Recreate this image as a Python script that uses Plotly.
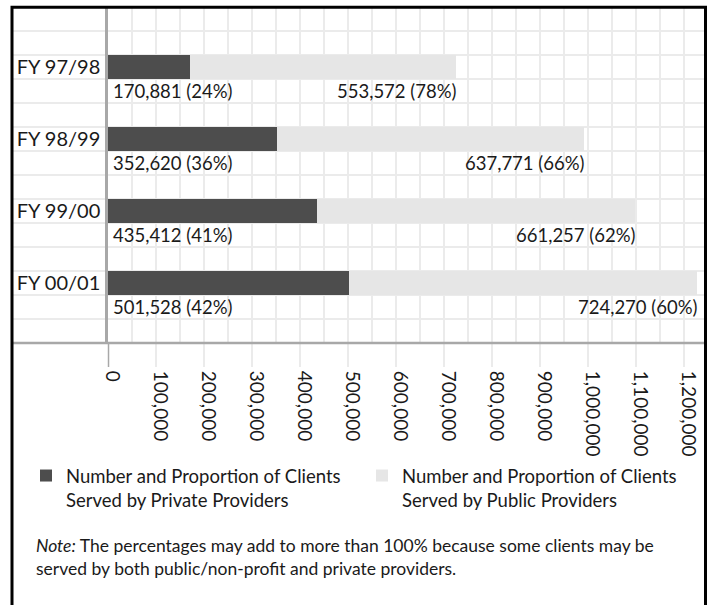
import plotly.graph_objects as go

# ---- data ----
years = ["FY 97/98", "FY 98/99", "FY 99/00", "FY 00/01"]
private_clients = [170881, 352620, 435412, 501528]
private_pct = [24, 36, 41, 42]
public_clients = [553572, 637771, 661257, 724270]
public_pct = [78, 66, 62, 60]
x_ticks = [0, 100000, 200000, 300000, 400000, 500000, 600000,
           700000, 800000, 900000, 1000000, 1100000, 1200000]

legend_private = "Number and Proportion of Clients<br>Served by Private Providers"
legend_public = "Number and Proportion of Clients<br>Served by Public Providers"
note_text = ("<i>Note:</i> The percentages may add to more than 100% because some clients may be"
             "<br>served by both public/non-profit and private providers.")

# ---- layout geometry (pixels) ----
W, H = 709, 605
L, R, T, B = 108, 5, 7, 262
plot_w = W - L - R
plot_h = H - T - B
FONT = "Lato"
TXT = "#1a1a1a"
DARK = "#4d4d4d"
LIGHT = "#e6e6e6"
GRID = "#ebebeb"
AXIS = "#a8a8a8"

def px_x(p):
    return (p - L) / plot_w

def px_y(p):
    return (T + plot_h - p) / plot_h

# category positions in grid cells (each category: bar cell, label cell, empty cell)
ypos = [2.5 + 3 * i for i in range(len(years))]
n_cells = 3 * len(years) + 2

fig = go.Figure()
fig.add_trace(go.Bar(
    y=ypos, x=private_clients, orientation="h", width=1,
    marker=dict(color=DARK, line=dict(width=0)),
    name=legend_private, legend="legend", hoverinfo="skip", showlegend=True,
))
fig.add_trace(go.Bar(
    y=ypos, x=public_clients, orientation="h", width=1,
    marker=dict(color=LIGHT, line=dict(width=0)),
    name=legend_public, legend="legend2", hoverinfo="skip", showlegend=True,
))

annotations = []
for yp, pv, pp, uv, up in zip(ypos, private_clients, private_pct, public_clients, public_pct):
    annotations.append(dict(
        x=0, y=yp + 1, xref="x", yref="y", xanchor="left", yanchor="middle",
        text=f"{pv:,} ({pp}%)", showarrow=False, xshift=3,
        font=dict(family=FONT, size=18.5, color=TXT),
    ))
    annotations.append(dict(
        x=pv + uv, y=yp + 1, xref="x", yref="y", xanchor="right", yanchor="middle",
        text=f"{uv:,} ({up}%)", showarrow=False, xshift=3,
        font=dict(family=FONT, size=18.5, color=TXT),
    ))

annotations.append(dict(
    x=px_x(34), y=px_y(533), xref="paper", yref="paper", xanchor="left", yanchor="top",
    align="left", text=note_text, showarrow=False,
    font=dict(family=FONT, size=17.5, color=TXT),
))

shapes = []
# horizontal grid extension across the category-label area
for k in range(1, n_cells):
    shapes.append(dict(type="line", xref="paper", yref="y", x0=px_x(12), x1=0, y0=k, y1=k,
                       line=dict(color=GRID, width=2), layer="below"))
# bottom axis line extended to the left border
shapes.append(dict(type="line", xref="paper", yref="paper", x0=px_x(12), x1=1, y0=0, y1=0,
                   line=dict(color=AXIS, width=2.5)))
# y axis line extended below the x axis
shapes.append(dict(type="line", xref="x", yref="paper", x0=0, x1=0, y0=0, y1=px_y(367),
                   line=dict(color=AXIS, width=2.5)))
# outer frame
shapes.append(dict(type="rect", xref="paper", yref="paper",
                   x0=px_x(12), x1=px_x(705.5), y0=px_y(620), y1=px_y(7.2),
                   line=dict(color="black", width=3), fillcolor="rgba(0,0,0,0)"))

fig.update_layout(
    width=W, height=H,
    margin=dict(l=L, r=R, t=T, b=B, autoexpand=False),
    paper_bgcolor="white", plot_bgcolor="white",
    barmode="stack", bargap=0, showlegend=True,
    font=dict(family=FONT, color=TXT),
    xaxis=dict(
        range=[0, 1241000], tickmode="array", tickvals=x_ticks,
        ticktext=[f"{v:,}" for v in x_ticks], tickangle=90, ticklabelshift=4,
        tickfont=dict(family=FONT, size=19, color=TXT),
        showgrid=True, gridcolor=GRID, gridwidth=2,
        minor=dict(dtick=50000, tick0=0, showgrid=True, gridcolor=GRID, gridwidth=2, ticks=""),
        ticks="outside", ticklen=23, tickwidth=2, tickcolor=GRID,
        showline=False, zeroline=False, fixedrange=True, automargin=False,
    ),
    yaxis=dict(
        range=[n_cells, 0], tickmode="array", tickvals=ypos, ticktext=years,
        tickfont=dict(family=FONT, size=20, color=TXT),
        showgrid=False,
        minor=dict(tickmode="array", tickvals=list(range(1, n_cells)), showgrid=True,
                   gridcolor=GRID, gridwidth=2, ticks=""),
        ticks="", ticklabelstandoff=1,
        showline=True, linecolor=AXIS, linewidth=2.5, zeroline=False, fixedrange=True,
        automargin=False,
    ),
    legend=dict(
        x=px_x(26), y=px_y(457), xanchor="left", yanchor="top",
        orientation="h", valign="top", bgcolor="rgba(0,0,0,0)",
        font=dict(family=FONT, size=18.5, color=TXT),
    ),
    legend2=dict(
        x=px_x(362), y=px_y(457), xanchor="left", yanchor="top",
        orientation="h", valign="top", bgcolor="rgba(0,0,0,0)",
        font=dict(family=FONT, size=18.5, color=TXT),
    ),
    annotations=annotations,
    shapes=shapes,
)

fig.write_html("out.html", config={"displayModeBar": False},
               post_script="document.body.style.margin='0';")
